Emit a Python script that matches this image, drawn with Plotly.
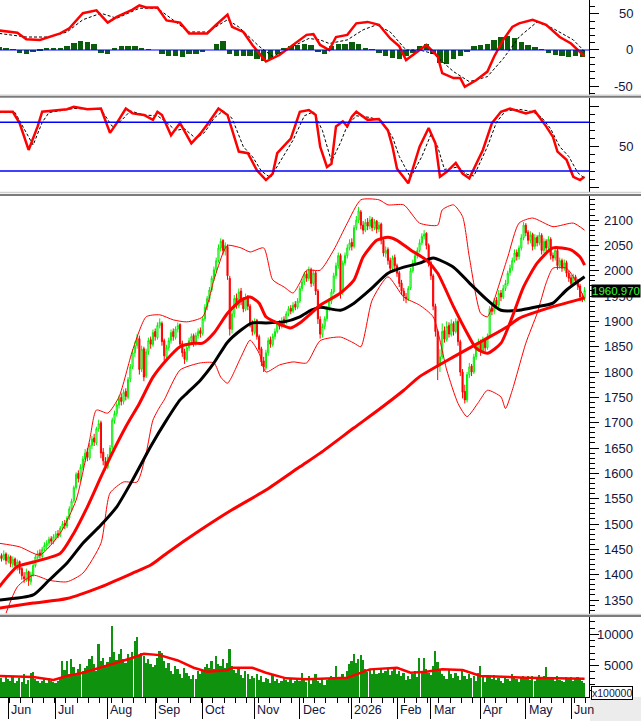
import plotly.graph_objects as go
from plotly.subplots import make_subplots

# bar index 0 = last sessions of May 2025, one bar per trading session
month_pos = [4, 25, 48, 69, 90, 113, 133, 156, 176, 191, 213, 233, 253]
month_txt = ['Jun', 'Jul', 'Aug', 'Sep', 'Oct', 'Nov', 'Dec', '2026', 'Feb', 'Mar', 'Apr', 'May', 'Jun']

opens = [
    1430, 1438, 1430, 1441, 1426, 1436, 1420, 1431, 1416, 1426,
    1412, 1396, 1390, 1406, 1386, 1400, 1418, 1434, 1443, 1436,
    1450, 1457, 1462, 1471, 1465, 1474, 1481, 1477, 1492, 1501,
    1496, 1512, 1530, 1546, 1572, 1600, 1588, 1612, 1628, 1642,
    1630, 1655, 1670, 1660, 1688, 1700, 1642, 1624, 1612, 1632,
    1652, 1704, 1718, 1735, 1750, 1742, 1762, 1750, 1786, 1810,
    1838, 1852, 1866, 1806, 1846, 1792, 1840, 1864, 1854, 1880,
    1868, 1892, 1896, 1862, 1830, 1848, 1862, 1880, 1868, 1885,
    1894, 1856, 1840, 1824, 1848, 1862, 1872, 1856, 1872, 1882,
    1876, 1905, 1928, 1945, 1962, 1985, 2002, 2020, 2045, 2060,
    2038, 2048, 1985, 1884, 1915, 1946, 1930, 1960, 1942, 1924,
    1950, 1930, 1896, 1878, 1902, 1870, 1846, 1822, 1808, 1838,
    1864, 1854, 1870, 1880, 1896, 1890, 1904, 1898, 1915, 1926,
    1920, 1934, 1928, 1940, 1965, 1978, 1994, 1985, 2002, 1975,
    1996, 1960, 1904, 1874, 1890, 1905, 1925, 1940, 1958, 1990,
    2010, 2030, 1958, 2015, 2030, 2045, 2056, 2048, 2085, 2100,
    2116, 2090, 2080, 2096, 2088, 2102, 2085, 2098, 2082, 2092,
    2060, 2034, 2042, 2020, 2004, 2026, 2010, 1996, 1976, 1960,
    1948, 1944, 1966, 2000, 2015, 2030, 2040, 2055, 2068, 2074,
    2050, 2016, 1990, 1930, 1880, 1812, 1830, 1882, 1864, 1892,
    1874, 1896, 1880, 1900, 1860, 1800, 1762, 1745, 1795, 1812,
    1800, 1830, 1845, 1860, 1840, 1864, 1848, 1870, 1926, 1920,
    1942, 1932, 1956, 1948, 1965, 1975, 1996, 2005, 2020, 2036,
    2028, 2045, 2065, 2090, 2076, 2060, 2072, 2048, 2066, 2055,
    2070, 2040, 2058, 2046, 2062, 2030, 2025, 2040, 2010, 2020,
    2005, 2016, 1995, 1986, 1975, 1988, 1980, 1970, 1948, 1945,
]
highs = [
    1445, 1442, 1448, 1444, 1440, 1438, 1436, 1434, 1430, 1428,
    1415, 1405, 1412, 1408, 1406, 1424, 1440, 1448, 1450, 1455,
    1464, 1468, 1475, 1476, 1480, 1486, 1488, 1496, 1506, 1508,
    1516, 1535, 1550, 1576, 1602, 1606, 1618, 1634, 1648, 1650,
    1660, 1674, 1678, 1692, 1706, 1704, 1650, 1632, 1638, 1656,
    1710, 1724, 1740, 1754, 1758, 1766, 1768, 1790, 1816, 1845,
    1860, 1875, 1872, 1852, 1850, 1846, 1868, 1870, 1884, 1886,
    1898, 1906, 1900, 1866, 1854, 1868, 1884, 1886, 1890, 1898,
    1896, 1862, 1846, 1852, 1868, 1876, 1876, 1878, 1886, 1888,
    1910, 1934, 1950, 1968, 1990, 2008, 2026, 2052, 2064, 2062,
    2056, 2052, 1990, 1922, 1952, 1955, 1965, 1966, 1948, 1955,
    1952, 1934, 1902, 1906, 1905, 1874, 1850, 1830, 1844, 1868,
    1870, 1876, 1886, 1900, 1902, 1908, 1910, 1920, 1930, 1932,
    1938, 1940, 1946, 1970, 1984, 1998, 2000, 2008, 2006, 2002,
    2000, 1964, 1910, 1896, 1910, 1930, 1946, 1964, 1996, 2016,
    2036, 2034, 2020, 2036, 2052, 2062, 2064, 2090, 2108, 2126,
    2120, 2098, 2102, 2104, 2108, 2106, 2102, 2100, 2096, 2095,
    2064, 2048, 2046, 2026, 2030, 2032, 2014, 2000, 1982, 1966,
    1956, 1970, 2006, 2022, 2036, 2046, 2062, 2074, 2080, 2076,
    2054, 2020, 1994, 1935, 1884, 1845, 1896, 1890, 1900, 1898,
    1904, 1900, 1906, 1904, 1864, 1806, 1775, 1800, 1818, 1816,
    1836, 1852, 1866, 1864, 1870, 1868, 1876, 1930, 1934, 1946,
    1948, 1962, 1962, 1972, 1982, 2000, 2012, 2026, 2042, 2042,
    2050, 2072, 2096, 2094, 2080, 2078, 2075, 2072, 2070, 2076,
    2074, 2064, 2062, 2068, 2066, 2036, 2046, 2044, 2026, 2024,
    2022, 2020, 2000, 1992, 1994, 1992, 1984, 1974, 1955, 1968,
]
lows = [
    1425, 1426, 1428, 1420, 1422, 1415, 1414, 1410, 1408, 1402,
    1390, 1384, 1386, 1378, 1380, 1396, 1414, 1430, 1432, 1432,
    1446, 1450, 1456, 1460, 1460, 1468, 1472, 1474, 1488, 1490,
    1492, 1508, 1526, 1542, 1568, 1582, 1584, 1606, 1622, 1624,
    1626, 1648, 1654, 1656, 1682, 1630, 1616, 1606, 1608, 1626,
    1648, 1698, 1712, 1728, 1734, 1736, 1744, 1746, 1780, 1806,
    1830, 1846, 1795, 1800, 1782, 1788, 1834, 1846, 1850, 1862,
    1864, 1886, 1852, 1822, 1824, 1842, 1856, 1862, 1864, 1878,
    1848, 1830, 1816, 1820, 1842, 1856, 1850, 1852, 1866, 1868,
    1872, 1900, 1922, 1938, 1958, 1980, 1996, 2016, 2038, 2032,
    2030, 1982, 1872, 1876, 1908, 1925, 1926, 1932, 1918, 1920,
    1922, 1888, 1872, 1874, 1864, 1838, 1812, 1800, 1804, 1832,
    1848, 1850, 1864, 1876, 1884, 1886, 1892, 1894, 1910, 1914,
    1916, 1922, 1924, 1936, 1960, 1972, 1978, 1980, 1968, 1970,
    1952, 1895, 1866, 1868, 1884, 1900, 1920, 1934, 1954, 1984,
    2004, 1945, 1952, 2010, 2024, 2040, 2040, 2044, 2080, 2094,
    2082, 2072, 2076, 2080, 2082, 2078, 2080, 2074, 2076, 2052,
    2028, 2026, 2012, 1998, 2000, 2002, 1988, 1968, 1952, 1940,
    1936, 1940, 1962, 1996, 2010, 2024, 2036, 2050, 2062, 2042,
    2008, 1982, 1922, 1870, 1784, 1800, 1826, 1858, 1860, 1868,
    1870, 1872, 1876, 1852, 1792, 1748, 1738, 1740, 1788, 1792,
    1796, 1824, 1840, 1832, 1836, 1840, 1844, 1866, 1912, 1914,
    1926, 1928, 1940, 1944, 1960, 1970, 1990, 2000, 2016, 2020,
    2022, 2040, 2060, 2068, 2052, 2054, 2040, 2042, 2048, 2050,
    2032, 2035, 2038, 2040, 2022, 2018, 2020, 2002, 2004, 1998,
    2000, 1988, 1978, 1968, 1970, 1972, 1962, 1940, 1938, 1940,
]
closes = [
    1436, 1432, 1440, 1428, 1435, 1422, 1430, 1418, 1425, 1410,
    1398, 1392, 1405, 1388, 1400, 1418, 1435, 1442, 1438, 1450,
    1458, 1462, 1470, 1466, 1475, 1480, 1478, 1492, 1500, 1497,
    1512, 1530, 1545, 1572, 1598, 1590, 1612, 1628, 1640, 1632,
    1655, 1668, 1662, 1688, 1698, 1640, 1625, 1615, 1632, 1650,
    1705, 1718, 1735, 1748, 1742, 1760, 1752, 1785, 1810, 1838,
    1852, 1868, 1805, 1845, 1790, 1840, 1862, 1855, 1878, 1870,
    1892, 1898, 1860, 1832, 1848, 1862, 1878, 1870, 1885, 1892,
    1855, 1838, 1825, 1848, 1862, 1870, 1858, 1872, 1880, 1876,
    1905, 1928, 1945, 1962, 1985, 2002, 2020, 2045, 2058, 2040,
    2050, 1990, 1885, 1915, 1945, 1932, 1958, 1940, 1925, 1948,
    1930, 1895, 1880, 1900, 1870, 1845, 1820, 1810, 1838, 1862,
    1855, 1870, 1880, 1895, 1890, 1902, 1898, 1915, 1925, 1920,
    1932, 1928, 1940, 1965, 1978, 1992, 1985, 2000, 1975, 1995,
    1960, 1905, 1875, 1890, 1905, 1925, 1940, 1958, 1990, 2010,
    2030, 1955, 2015, 2030, 2045, 2055, 2048, 2085, 2100, 2118,
    2090, 2080, 2095, 2088, 2100, 2085, 2096, 2082, 2090, 2060,
    2035, 2040, 2020, 2005, 2025, 2010, 1995, 1975, 1960, 1950,
    1945, 1965, 2000, 2015, 2030, 2040, 2055, 2068, 2072, 2050,
    2015, 1990, 1930, 1880, 1810, 1830, 1880, 1865, 1890, 1875,
    1895, 1880, 1900, 1860, 1800, 1760, 1745, 1795, 1810, 1800,
    1830, 1845, 1858, 1840, 1862, 1848, 1870, 1925, 1920, 1940,
    1932, 1955, 1948, 1965, 1975, 1995, 2005, 2020, 2035, 2028,
    2045, 2065, 2090, 2075, 2060, 2070, 2048, 2065, 2055, 2070,
    2040, 2058, 2045, 2062, 2030, 2025, 2040, 2010, 2020, 2005,
    2015, 1995, 1985, 1975, 1988, 1980, 1970, 1948, 1945, 1960.97,
]
volume = [
    2800, 3100, 2400, 3500, 2900, 2600, 3300, 2200, 2500, 3000,
    2400, 3600, 2100, 2700, 3800, 4000, 2900, 2500, 2300, 2600,
    2800, 2200, 3100, 2600, 2400,
    2300, 2600, 3000, 5700, 4300, 5800, 3700, 6000, 4800, 3900,
    4400, 5200, 4100, 4600, 5000, 6000, 6600, 5300, 4200, 8500,
    5800, 6200, 5100,
    5600, 6400, 11300, 7200, 5900, 6800, 7600, 6100, 5500, 6900,
    6300, 7200, 8900, 9600, 6700, 7100, 6500, 5400, 6000, 5200, 4800,
    5100, 6300, 7300, 7000, 5800, 4600, 5500, 4200, 3600, 5000,
    4400, 3700, 3100, 4700, 3900, 3300, 2900, 3500, 2800, 4100, 3600,
    4200, 4800, 5300, 4600, 5700, 4400, 6500, 5200, 4900, 6000,
    4700, 5500, 7600, 4900, 4300, 3800, 4600, 3500, 3100, 4200,
    3700, 2900, 3400,
    3000, 3600, 2700, 3300, 2400, 3100, 2800, 2300, 3500, 2600,
    2900, 2200, 2500, 3200, 2700, 2400, 2800, 2300, 2600, 3000,
    2500, 3900, 2700, 2400, 3300, 2100, 2800, 3600, 2600, 2300,
    3100, 2000, 2700, 2900, 3400, 3000, 4900, 2800, 3200, 3600,
    3100, 4100, 5200,
    5800, 6800, 5400, 6100, 6700, 5900, 4400, 4000, 4500, 3700,
    4300, 3600, 3800, 4700, 3900, 4200, 4600, 3500, 4100, 4400,
    3700, 4100, 3300, 3900, 2700, 3400, 2900, 3600, 4150, 3200,
    6300, 4000, 6200, 4400, 3800,
    3500, 4900, 7300, 5600, 4300, 3700, 3300, 2800, 4400, 3600,
    3000, 3900, 3300, 2700, 4100, 3400, 2900, 3600, 3000, 3300,
    2600, 3800,
    5000, 3200, 2400, 3400, 3300, 2900, 3500, 2700, 3100, 2600,
    2300, 3300, 2800, 2500, 3600, 3000, 2800, 2400, 3200, 3400,
    2900, 3300, 2700, 3400, 2600, 3100, 3500, 2900, 3300, 4800,
    3200, 2800, 3000, 2500, 3300, 2700, 2600, 2400, 3200, 2900,
    3200, 2500, 2900, 3200, 2800, 2600, 2200,
]

# moving averages / bollinger bands (bar index, value)
ma20_i = [0, 8, 15, 27, 33, 39, 45, 50, 56, 62, 68, 74, 80, 86, 90, 95, 101, 107, 111, 115,
          118, 123, 129, 133, 138, 142, 151, 157, 161, 167, 172, 176, 182, 189, 194, 201, 207, 211, 216, 222,
          227, 232, 238, 245, 253, 257, 259]
ma20_v = [1376, 1416, 1425, 1442, 1482, 1534, 1593, 1640, 1692, 1738, 1790, 1824, 1850, 1857, 1857, 1877, 1916, 1942, 1948, 1936,
          1909, 1897, 1887, 1897, 1916, 1932, 1956, 1982, 2027, 2060, 2066, 2060, 2041, 2021, 1995, 1929, 1877, 1847, 1837, 1857,
          1909, 1968, 2015, 2045, 2041, 2027, 2011]
ma50_i = [0, 15, 22, 30, 37, 45, 52, 59, 67, 74, 80, 83, 89, 95, 101, 107, 112, 118, 126, 133,
          138, 142, 151, 157, 164, 172, 179, 186, 192, 201, 208, 216, 222, 230, 238, 245, 251, 259]
ma50_v = [1350, 1360, 1389, 1423, 1462, 1498, 1534, 1587, 1653, 1705, 1745, 1758, 1784, 1818, 1859, 1883, 1897, 1897, 1899, 1909,
          1922, 1928, 1922, 1936, 1962, 1995, 2007, 2015, 2025, 2007, 1976, 1942, 1922, 1922, 1929, 1936, 1962, 1988]
ma200_i = [0, 15, 30, 45, 59, 67, 74, 89, 103, 118, 133, 142, 157, 168, 179, 186, 201, 216, 225, 230, 245, 259]
ma200_v = [1334, 1344, 1353, 1376, 1403, 1419, 1442, 1488, 1528, 1567, 1613, 1640, 1690, 1726, 1764, 1791, 1830, 1867, 1890, 1906, 1929, 1946]
bbu_i = [0, 9, 18, 27, 34, 40, 43, 48, 53, 59, 65, 71, 77, 83, 90, 95, 99, 101, 107, 111,
         117, 121, 126, 130, 133, 136, 142, 148, 154, 160, 168, 172, 179, 186, 194, 196, 201, 205, 208, 213,
         216, 218, 225, 230, 236, 245, 254, 259]
bbu_v = [1462, 1455, 1439, 1482, 1547, 1666, 1725, 1719, 1751, 1843, 1909, 1913, 1903, 1899, 1909, 1982, 2035, 2050, 2045, 2037,
         2045, 1982, 1968, 1956, 1976, 2001, 2001, 2041, 2094, 2140, 2140, 2130, 2130, 2094, 2090, 2120, 2130, 2107, 2027, 1916,
         1909, 1929, 2027, 2094, 2104, 2087, 2094, 2080]
bbl_i = [3, 8, 15, 22, 30, 37, 45, 49, 55, 61, 65, 68, 71, 73, 80, 89, 95, 98, 101, 107,
         111, 115, 118, 124, 130, 136, 142, 151, 157, 160, 165, 172, 179, 186, 192, 198, 203, 207, 212, 216,
         222, 224, 227, 233, 238, 242, 245, 251, 254, 259]
bbl_v = [1324, 1376, 1399, 1389, 1386, 1403, 1462, 1561, 1583, 1583, 1640, 1705, 1731, 1745, 1804, 1818, 1818, 1790, 1778, 1830,
         1863, 1837, 1800, 1814, 1820, 1818, 1862, 1869, 1857, 1850, 1942, 1988, 1948, 1932, 1909, 1804, 1738, 1712, 1740, 1764,
         1751, 1728, 1764, 1857, 1916, 1976, 2005, 2005, 1988, 1945]

# MACD panel
macd_i = [0, 8, 12, 18, 27, 31, 37, 43, 48, 52, 59, 62, 65, 70, 74, 80, 84, 92, 96, 101,
          103, 108, 112, 118, 124, 130, 136, 139, 142, 146, 149, 154, 158, 163, 168, 173, 177, 180, 186, 189,
          194, 196, 201, 204, 206, 211, 216, 219, 223, 227, 230, 236, 242, 248, 253, 259]
macd_v = [27, 24, 15, 14, 23, 30, 51, 55, 38, 46, 56, 62, 59, 59, 41, 38, 23, 23, 35, 49,
          32, 25, 7, -16, -7, 7, 21, 22, 7, 0, 18, 21, 37, 39, 35, 16, 5, -14, 0, 7,
          -9, -32, -39, -39, -51, -42, -30, -9, 14, 32, 37, 42, 35, 18, 9, -9]
sig_i = [0, 12, 22, 30, 37, 45, 52, 62, 70, 77, 84, 92, 101, 106, 115, 121, 130, 137, 142, 146,
         154, 161, 167, 173, 180, 186, 192, 201, 208, 216, 223, 230, 238, 245, 254, 259]
sig_v = [23, 18, 18, 25, 42, 51, 44, 58, 58, 42, 25, 25, 42, 32, 5, -9, 5, 16, 14, 9,
         14, 28, 35, 25, 0, 0, -5, -30, -44, -37, -12, 18, 39, 30, 14, -2]
hist_v = [4, 3, 1, -4, -5, -3, -2, 2, 3, 3,
          6, 10, 12, 11, 8, -4, -6, 3, 6, 6,
          5, 3, 1, 0, -6, -9, -8, -10, -6, -5,
          -3, 0, 8, 12, -5, -8, -9, -8, -12, -15,
          -13, -6, 3, 5, 7, 9, 7, -3, -5, 6,
          8, 9, 11, 8, 3, 1, -4, -9, -11, -12,
          -8, -4, 6, 8, -6, -18, -20, -12, -8, -3,
          5, 7, 8, 14, 18, 20, 17, 11, 7, 4,
          1, -4, -7, -9, -10, -9, -10]
hist_x = list(range(0, 259, 3))

# stochastic panel
k_i = [0, 6, 9, 13, 17, 19, 30, 33, 39, 45, 49, 52, 56, 59, 64, 68, 70, 72, 76, 80,
       85, 89, 93, 97, 101, 106, 110, 114, 118, 121, 123, 129, 133, 137, 140, 142, 145, 147, 149, 152,
       154, 156, 158, 163, 168, 172, 174, 176, 181, 186, 190, 193, 195, 198, 202, 205, 208, 214, 218, 222,
       226, 233, 237, 242, 245, 247, 251, 254, 257, 259]
k_v = [93, 93, 79, 46, 75, 93, 96, 99, 96, 97, 67, 79, 97, 91, 89, 83, 93, 89, 64, 79,
       54, 66, 81, 97, 89, 44, 42, 21, 9, 17, 42, 60, 93, 95, 89, 50, 25, 29, 75, 81,
       75, 87, 93, 83, 84, 70, 50, 23, 5, 50, 73, 54, 13, 19, 30, 17, 11, 46, 79, 93,
       97, 91, 94, 75, 62, 44, 34, 13, 9, 13]
d_i = [0, 7, 11, 15, 19, 22, 33, 45, 50, 54, 58, 64, 70, 74, 78, 82, 87, 91, 95, 99,
       103, 108, 112, 116, 120, 124, 130, 135, 139, 143, 147, 151, 154, 158, 164, 169, 174, 177, 182, 187,
       191, 194, 197, 203, 207, 210, 216, 220, 224, 230, 236, 240, 244, 248, 252, 256, 259]
d_v = [92, 92, 72, 52, 80, 92, 97, 96, 75, 82, 94, 89, 88, 80, 70, 72, 60, 68, 85, 94,
       85, 50, 38, 20, 12, 30, 58, 88, 93, 70, 32, 55, 76, 88, 86, 82, 62, 38, 12, 38,
       65, 50, 22, 25, 16, 14, 50, 80, 94, 96, 93, 86, 72, 50, 38, 18, 11]

# volume moving average
vma_i = [0, 15, 24, 30, 37, 45, 52, 59, 64, 71, 79, 86, 92, 101, 103, 112, 118, 127, 136, 142,
         154, 164, 176, 182, 189, 196, 205, 213, 225, 233, 259]
vma_v = [3350, 3190, 2710, 3350, 3880, 4680, 5480, 6280, 6920, 6700, 5850, 4680, 4040, 4260, 4680, 4680, 3880, 2980, 2820, 2930,
         3090, 4420, 4680, 3880, 4040, 4420, 4310, 3350, 3190, 3090, 2930]

price_ticks = [1350, 1400, 1450, 1500, 1550, 1600, 1650, 1700, 1750, 1800, 1850, 1900, 1950, 2000, 2050, 2100]
macd_ticks = [-50, 0, 50]
stoch_ticks = [0, 50, 100]
stoch_labels = [50]
vol_ticks = [5000, 10000]
last_close = 1960.97

RED = '#ff0000'
LBL = '#14143c'
FONT = 'Liberation Sans'
bars = list(range(len(closes)))

fig = make_subplots(rows=4, cols=1, shared_xaxes=True, vertical_spacing=0)

# MACD
fig.add_trace(go.Bar(x=hist_x, y=hist_v, width=2.4, marker=dict(color='#0b5c0b', line=dict(width=0))), row=1, col=1)
fig.add_trace(go.Scatter(x=sig_i, y=sig_v, mode='lines', line=dict(color='black', width=1, dash='3px,2px')), row=1, col=1)
fig.add_trace(go.Scatter(x=macd_i, y=macd_v, mode='lines', line=dict(color=RED, width=2.5)), row=1, col=1)

# Stochastic
fig.add_trace(go.Scatter(x=d_i, y=d_v, mode='lines', line=dict(color='black', width=1, dash='3px,2px')), row=2, col=1)
fig.add_trace(go.Scatter(x=k_i, y=k_v, mode='lines', line=dict(color=RED, width=2.5)), row=2, col=1)

# Price
fig.add_trace(go.Candlestick(
    x=bars, open=opens, high=highs, low=lows, close=closes,
    increasing=dict(line=dict(color='#00ee00', width=1), fillcolor='#ffffff'),
    decreasing=dict(line=dict(color=RED, width=1), fillcolor=RED),
    whiskerwidth=0,
), row=3, col=1)
for xs, ys, col, w in [
    (bbu_i, bbu_v, RED, 1), (bbl_i, bbl_v, RED, 1),
    (ma200_i, ma200_v, RED, 3), (ma50_i, ma50_v, 'black', 3), (ma20_i, ma20_v, RED, 3),
]:
    fig.add_trace(go.Scatter(x=xs, y=ys, mode='lines', line=dict(color=col, width=w, shape='spline', smoothing=0.6)),
                  row=3, col=1)

# Volume
fig.add_trace(go.Bar(x=bars, y=volume, width=0.75, marker=dict(color='#0f930f', line=dict(width=0))), row=4, col=1)
fig.add_trace(go.Scatter(x=vma_i, y=vma_v, mode='lines', line=dict(color=RED, width=2.5)), row=4, col=1)

# panel layout in pixels: plot area is 589 x 697
H = 697.0
def fy(px):
    return (H - px) / H

yax = dict(side='right', showline=True, linecolor='black', linewidth=1, ticks='outside', ticklen=9,
           tickcolor='black', showgrid=False, zeroline=False, showticklabels=False)
fig.update_layout(
    width=641, height=721,
    margin=dict(l=0, r=52, t=0, b=24),
    paper_bgcolor='white', plot_bgcolor='white',
    showlegend=False, bargap=0,
    yaxis=dict(yax, domain=[fy(95), 1.0], range=[-62.5, 69.4], tickvals=macd_ticks,
               minor=dict(ticks='outside', ticklen=5, tickcolor='black', dtick=10, tick0=0)),
    yaxis2=dict(yax, domain=[fy(193), fy(98)], range=[-6.95, 109.9], tickvals=stoch_ticks,
                minor=dict(ticks='outside', ticklen=5, tickcolor='black', dtick=10, tick0=0)),
    yaxis3=dict(yax, domain=[fy(614), fy(196)], range=[1322.4, 2147.5], tickvals=price_ticks,
                minor=dict(ticks='outside', ticklen=5, tickcolor='black', dtick=10, tick0=0)),
    yaxis4=dict(yax, domain=[0, fy(617)], range=[0, 12796], tickvals=vol_ticks,
                minor=dict(ticks='outside', ticklen=5, tickcolor='black', dtick=1000, tick0=0)),
)
fig.update_xaxes(range=[0.33, 260.95], showgrid=False, zeroline=False, showticklabels=False,
                 rangeslider_visible=False, domain=[0, 1])
fig.update_xaxes(row=4, col=1, showline=True, linecolor='black', ticks='outside', ticklen=21,
                 tickcolor='black', tickvals=month_pos,
                 minor=dict(ticks='outside', ticklen=5, tickcolor='black', dtick=5, tick0=4.5))

# reference lines
fig.add_hline(y=0, line=dict(color='#0000ff', width=1.2), row=1, col=1)
fig.add_hline(y=80, line=dict(color='#0000ff', width=1.5), row=2, col=1)
fig.add_hline(y=20, line=dict(color='#0000ff', width=1.5), row=2, col=1)

# panel separators and corner
XR = 641 / 589.0
shapes = []
for light, dark in [(95.2, 96.8), (192.5, 195.0), (614.5, 616.0)]:
    shapes.append(dict(type='line', xref='paper', yref='paper', x0=0, x1=XR, y0=fy(light), y1=fy(light),
                       line=dict(color='#d0d0d0', width=1.5)))
    shapes.append(dict(type='line', xref='paper', yref='paper', x0=0, x1=XR, y0=fy(dark), y1=fy(dark),
                       line=dict(color='#7c7c7c', width=1.8)))
shapes.append(dict(type='rect', xref='paper', yref='paper', x0=1.0017, x1=XR, y0=0, y1=fy(721),
                   fillcolor='#ececec', line=dict(width=0)))
fig.update_layout(shapes=list(fig.layout.shapes) + shapes)

# tick labels, right aligned
LX = 635 / 589.0
for v in price_ticks:
    fig.add_annotation(x=LX, xref='paper', y=v, yref='y3', text=str(v), showarrow=False, xanchor='right',
                       font=dict(family=FONT, size=13, color=LBL))
for v in macd_ticks:
    fig.add_annotation(x=LX, xref='paper', y=v, yref='y', text=str(v), showarrow=False, xanchor='right',
                       font=dict(family=FONT, size=13, color=LBL))
for v in stoch_labels:
    fig.add_annotation(x=LX, xref='paper', y=v, yref='y2', text=str(v), showarrow=False, xanchor='right',
                       font=dict(family=FONT, size=13, color=LBL))
for v in vol_ticks:
    fig.add_annotation(x=LX, xref='paper', y=v, yref='y4', text=str(v), showarrow=False, xanchor='right',
                       font=dict(family=FONT, size=13, color=LBL))
for p, t in zip(month_pos, month_txt):
    fig.add_annotation(x=p + 0.3, xref='x4', y=fy(710), yref='paper', text=t, showarrow=False,
                       xanchor='left', yanchor='middle', font=dict(family=FONT, size=12.5, color=LBL))

# last price tag and volume unit
fig.add_annotation(x=1.003, xref='paper', y=last_close, yref='y3', text='%.3f' % last_close, showarrow=False,
                   xanchor='left', bgcolor='black', borderpad=0,
                   font=dict(family=FONT, size=11.5, color='#33ff33'))
fig.add_annotation(x=1.004, xref='paper', y=fy(692.5), yref='paper', text='x100000', showarrow=False,
                   xanchor='left', yanchor='middle', bgcolor='white', bordercolor='black', borderwidth=1,
                   borderpad=0, font=dict(family=FONT, size=10.5, color=LBL))

fig.write_html("out.html", config={'displayModeBar': False},
               post_script="document.body.style.margin='0';")
